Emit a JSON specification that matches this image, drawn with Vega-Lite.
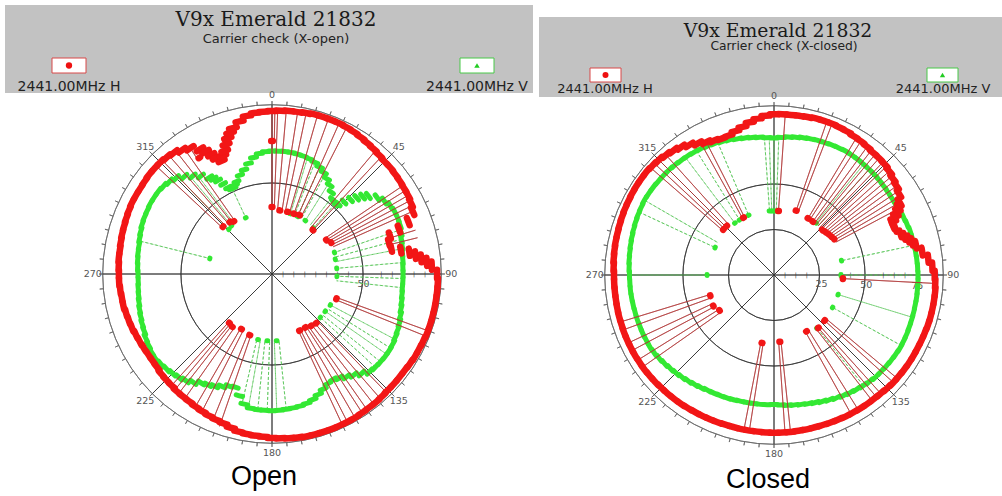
{
"$schema":"https://vega.github.io/schema/vega-lite/v6.json",
"background":"white",
"padding":{"left":5,"top":5,"right":0,"bottom":0},
"config":{"view":{"stroke":null},"text":{"font":"DejaVu Sans"}},
"datasets":{
"axes":[{"a":0},{"a":45},{"a":90},{"a":135},{"a":180},{"a":225},{"a":270},{"a":315}],
"ticks":[{"a":0},{"a":5},{"a":10},{"a":15},{"a":20},{"a":25},{"a":30},{"a":35},{"a":40},{"a":45},{"a":50},{"a":55},{"a":60},{"a":65},{"a":70},{"a":75},{"a":80},{"a":85},{"a":90},{"a":95},{"a":100},{"a":105},{"a":110},{"a":115},{"a":120},{"a":125},{"a":130},{"a":135},{"a":140},{"a":145},{"a":150},{"a":155},{"a":160},{"a":165},{"a":170},{"a":175},{"a":180},{"a":185},{"a":190},{"a":195},{"a":200},{"a":205},{"a":210},{"a":215},{"a":220},{"a":225},{"a":230},{"a":235},{"a":240},{"a":245},{"a":250},{"a":255},{"a":260},{"a":265},{"a":270},{"a":275},{"a":280},{"a":285},{"a":290},{"a":295},{"a":300},{"a":305},{"a":310},{"a":315},{"a":320},{"a":325},{"a":330},{"a":335},{"a":340},{"a":345},{"a":350},{"a":355}],
"hticksL":[{"r":6},{"r":12},{"r":18},{"r":24},{"r":30},{"r":36},{"r":42},{"r":60},{"r":66},{"r":72},{"r":78},{"r":84},{"r":90}],
"hticksR":[{"r":6},{"r":12},{"r":18},{"r":36},{"r":42},{"r":60},{"r":66},{"r":72},{"r":90}],
"dlab":[{"a":0,"t":"0"},{"a":45,"t":"45"},{"a":90,"t":"90"},{"a":135,"t":"135"},{"a":180,"t":"180"},{"a":225,"t":"225"},{"a":270,"t":"270"},{"a":315,"t":"315"}],
"LH":[{"a":0,"r":89.6},{"a":3,"r":89.8},{"a":6,"r":90.1},{"a":9,"r":90.1},{"a":12,"r":90.4},{"a":15,"r":90.7},{"a":18,"r":90.7},{"a":21,"r":90.7},{"a":24,"r":90.7},{"a":27,"r":90.4},{"a":30,"r":90.1},{"a":33,"r":89.6},{"a":36,"r":89.0},{"a":39,"r":88.5},{"a":42,"r":87.9},{"a":45,"r":87.4},{"a":48,"r":87.4},{"a":51,"r":87.1},{"a":54,"r":86.8},{"a":57,"r":86.5},{"a":60,"r":86.3},{"a":63,"r":85.7},{"a":66,"r":84.6},{"a":69,"r":80.2},{"a":70.5,"r":74},{"a":72,"r":68.1},{"a":75,"r":66.5},{"a":78,"r":67.0},{"a":79.5,"r":72},{"a":81,"r":76.4},{"a":82.5,"r":79.5},{"a":84,"r":82.4},{"a":85.5,"r":85.3},{"a":87,"r":87.9},{"a":90,"r":90.7},{"a":93,"r":91.2},{"a":96,"r":91.2},{"a":99,"r":91.2},{"a":102,"r":91.2},{"a":105,"r":91.2},{"a":108,"r":91.2},{"a":111,"r":91.2},{"a":114,"r":90.9},{"a":117,"r":90.7},{"a":120,"r":90.7},{"a":123,"r":90.4},{"a":126,"r":90.1},{"a":129,"r":90.1},{"a":132,"r":90.1},{"a":135,"r":90.1},{"a":138,"r":90.4},{"a":141,"r":90.7},{"a":144,"r":90.7},{"a":147,"r":90.9},{"a":150,"r":91.2},{"a":153,"r":91.2},{"a":156,"r":91.2},{"a":159,"r":91.2},{"a":162,"r":91.2},{"a":165,"r":91.2},{"a":168,"r":91.2},{"a":171,"r":90.9},{"a":174,"r":90.7},{"a":177,"r":90.4},{"a":180,"r":90.1},{"a":183,"r":89.6},{"a":186,"r":89.3},{"a":189,"r":89.0},{"a":192,"r":88.5},{"a":195,"r":87.4},{"a":198,"r":86.3},{"a":201,"r":85.7},{"a":204,"r":85.2},{"a":207,"r":84.6},{"a":210,"r":84.1},{"a":213,"r":83.5},{"a":216,"r":83.2},{"a":219,"r":83.0},{"a":222,"r":82.4},{"a":225,"r":82.2},{"a":228,"r":81.9},{"a":231,"r":81.3},{"a":234,"r":81.1},{"a":237,"r":81.1},{"a":240,"r":81.3},{"a":243,"r":81.6},{"a":246,"r":81.9},{"a":249,"r":82.4},{"a":252,"r":82.7},{"a":255,"r":83.0},{"a":258,"r":83.5},{"a":261,"r":83.5},{"a":264,"r":83.8},{"a":267,"r":84.1},{"a":270,"r":84.1},{"a":273,"r":84.3},{"a":276,"r":84.6},{"a":279,"r":84.6},{"a":282,"r":84.9},{"a":285,"r":85.2},{"a":288,"r":85.4},{"a":291,"r":85.7},{"a":294,"r":86.0},{"a":297,"r":86.3},{"a":300,"r":86.3},{"a":303,"r":86.3},{"a":306,"r":86.5},{"a":309,"r":86.8},{"a":312,"r":86.8},{"a":315,"r":86.8},{"a":318,"r":86.3},{"a":321,"r":85.7},{"a":324,"r":84.1},{"a":327,"r":82.4},{"a":330,"r":79.1},{"a":331.5,"r":76.5},{"a":333,"r":73.6},{"a":334.5,"r":70.8},{"a":336,"r":68.1},{"a":337.5,"r":70.3},{"a":339,"r":72.5},{"a":340.5,"r":75.6},{"a":342,"r":78.6},{"a":343.5,"r":81},{"a":345,"r":83.0},{"a":348,"r":85.7},{"a":351,"r":87.9},{"a":354,"r":89.0},{"a":357,"r":89.3}],
"LHd":[{"a":0,"r":73.1},{"a":0,"r":36.8},{"a":7,"r":35.2},{"a":14,"r":35.2},{"a":20,"r":35.2},{"a":25,"r":35.7},{"a":43,"r":33.0},{"a":58,"r":35.2},{"a":62,"r":36.8},{"a":111,"r":37.9},{"a":138,"r":36.3},{"a":143,"r":35.7},{"a":148,"r":34.6},{"a":154,"r":34.6},{"a":200,"r":35.7},{"a":209,"r":34.6},{"a":217,"r":36.3},{"a":221,"r":35.7},{"a":314,"r":37.4},{"a":321,"r":36.8},{"a":324,"r":35.7},{"a":328,"r":75.3},{"a":333,"r":70.9}],
"LV":[{"a":0,"r":67.6},{"a":3,"r":67.6},{"a":6,"r":67.6},{"a":9,"r":67.6},{"a":12,"r":67.3},{"a":15,"r":67.0},{"a":18,"r":66.5},{"a":21,"r":65.7},{"a":24,"r":64.3},{"a":27,"r":62.6},{"a":30,"r":60.4},{"a":33,"r":58.2},{"a":36,"r":55.5},{"a":39,"r":52.8},{"a":40.5,"r":52.2},{"a":42,"r":51.7},{"a":43.5,"r":53},{"a":45,"r":56.0},{"a":46.5,"r":59.5},{"a":48,"r":62.6},{"a":49.5,"r":65.5},{"a":51,"r":68.1},{"a":54,"r":71.4},{"a":57,"r":73.6},{"a":60,"r":75.0},{"a":63,"r":75.6},{"a":66,"r":75.6},{"a":69,"r":75.3},{"a":72,"r":74.5},{"a":75,"r":73.6},{"a":78,"r":73.1},{"a":81,"r":72.5},{"a":84,"r":72.3},{"a":87,"r":72.0},{"a":90,"r":72.0},{"a":93,"r":72.0},{"a":96,"r":72.0},{"a":99,"r":72.3},{"a":102,"r":72.8},{"a":105,"r":73.4},{"a":108,"r":74.2},{"a":111,"r":75.0},{"a":114,"r":75.6},{"a":117,"r":76.1},{"a":120,"r":76.7},{"a":123,"r":76.9},{"a":126,"r":76.9},{"a":129,"r":76.7},{"a":132,"r":76.4},{"a":135,"r":75.8},{"a":138,"r":73.6},{"a":141,"r":71.4},{"a":144,"r":69.8},{"a":147,"r":68.1},{"a":150,"r":67.0},{"a":153,"r":67.6},{"a":156,"r":69.2},{"a":159,"r":70.9},{"a":162,"r":72.5},{"a":165,"r":73.6},{"a":168,"r":74.2},{"a":171,"r":74.5},{"a":174,"r":74.7},{"a":177,"r":75.0},{"a":180,"r":75.1},{"a":183,"r":75.0},{"a":186,"r":74.9},{"a":189,"r":74.7},{"a":192,"r":73.1},{"a":195,"r":69.2},{"a":198,"r":65.4},{"a":201,"r":65.9},{"a":204,"r":67.6},{"a":207,"r":69.2},{"a":210,"r":70.3},{"a":213,"r":71.4},{"a":216,"r":73.6},{"a":219,"r":75.3},{"a":222,"r":76.4},{"a":225,"r":77.2},{"a":228,"r":78.0},{"a":231,"r":78.6},{"a":234,"r":79.1},{"a":237,"r":78.9},{"a":240,"r":78.3},{"a":243,"r":77.8},{"a":246,"r":76.9},{"a":249,"r":76.4},{"a":252,"r":75.8},{"a":255,"r":75.3},{"a":258,"r":74.7},{"a":261,"r":74.2},{"a":264,"r":73.9},{"a":267,"r":73.6},{"a":270,"r":73.6},{"a":273,"r":73.9},{"a":276,"r":74.2},{"a":279,"r":74.5},{"a":282,"r":74.7},{"a":285,"r":75.3},{"a":288,"r":75.8},{"a":291,"r":76.4},{"a":294,"r":76.7},{"a":297,"r":76.9},{"a":300,"r":77.2},{"a":303,"r":77.2},{"a":306,"r":77.2},{"a":309,"r":76.7},{"a":312,"r":75.8},{"a":315,"r":74.5},{"a":318,"r":72.0},{"a":321,"r":69.2},{"a":324,"r":66.5},{"a":327,"r":63.2},{"a":328.5,"r":61.5},{"a":330,"r":59.3},{"a":331.5,"r":56.3},{"a":333,"r":53.3},{"a":334.5,"r":52},{"a":336,"r":51.7},{"a":337.5,"r":53},{"a":339,"r":54.4},{"a":342,"r":57.1},{"a":345,"r":59.3},{"a":348,"r":62.1},{"a":351,"r":64.8},{"a":354,"r":66.5},{"a":357,"r":67.3}],
"LVd":[{"a":284,"r":35.2},{"a":316,"r":34.1},{"a":320,"r":34.6},{"a":335,"r":34.1},{"a":17,"r":34.6},{"a":24,"r":34.6},{"a":32,"r":34.6},{"a":42,"r":34.1},{"a":71,"r":36.3},{"a":77,"r":35.7},{"a":85,"r":35.7},{"a":92,"r":35.7},{"a":118,"r":36.3},{"a":125,"r":35.7},{"a":132,"r":35.7},{"a":176,"r":36.8},{"a":184,"r":36.8},{"a":192,"r":36.8}],
"LHl":[{"a":0,"r1":36.8,"r2":89.6},{"a":2,"r1":36.8,"r2":89.6},{"a":1,"r1":73.1,"r2":89.6},{"a":5,"r1":35.2,"r2":90.1},{"a":9,"r1":35.2,"r2":90.1},{"a":12,"r1":35.2,"r2":90.4},{"a":16,"r1":35.2,"r2":90.7},{"a":20,"r1":35.2,"r2":90.7},{"a":24,"r1":35.7,"r2":90.7},{"a":27,"r1":35.7,"r2":90.4},{"a":40,"r1":33.0,"r2":87.9},{"a":43,"r1":33.0,"r2":87.4},{"a":56,"r1":35.2,"r2":86.8},{"a":58,"r1":35.2,"r2":86.3},{"a":60,"r1":36.8,"r2":86.3},{"a":62,"r1":36.8,"r2":85.7},{"a":64,"r1":36.8,"r2":85.2},{"a":66,"r1":36.8,"r2":84.6},{"a":73,"r1":67.0,"r2":82.4},{"a":76,"r1":66.5,"r2":82.4},{"a":110,"r1":37.9,"r2":91.2},{"a":112,"r1":37.9,"r2":91.2},{"a":136,"r1":36.3,"r2":90.1},{"a":139,"r1":36.3,"r2":90.1},{"a":142,"r1":35.7,"r2":90.7},{"a":145,"r1":35.7,"r2":90.7},{"a":147,"r1":34.6,"r2":90.7},{"a":150,"r1":34.6,"r2":91.2},{"a":153,"r1":34.6,"r2":91.2},{"a":155,"r1":34.6,"r2":91.2},{"a":199,"r1":35.7,"r2":88.5},{"a":202,"r1":35.7,"r2":86.3},{"a":207,"r1":34.6,"r2":84.6},{"a":210,"r1":34.6,"r2":84.1},{"a":215,"r1":36.3,"r2":83.5},{"a":218,"r1":36.3,"r2":83.0},{"a":220,"r1":35.7,"r2":82.4},{"a":222,"r1":35.7,"r2":82.4},{"a":313,"r1":37.4,"r2":86.8},{"a":316,"r1":37.4,"r2":86.8},{"a":319,"r1":36.8,"r2":86.3},{"a":322,"r1":36.8,"r2":85.2},{"a":325,"r1":35.7,"r2":83.5},{"a":327,"r1":75.3,"r2":82.4},{"a":332,"r1":70.9,"r2":76.9}],
"LVl":[{"a":284,"r1":35.2,"r2":74.2},{"a":316,"r1":34.1,"r2":74.2},{"a":320,"r1":34.6,"r2":70.3},{"a":323,"r1":34.6,"r2":66.5},{"a":335,"r1":34.1,"r2":51.7},{"a":17,"r1":34.6,"r2":66.5},{"a":21,"r1":34.6,"r2":65.4},{"a":24,"r1":34.6,"r2":64.3},{"a":28,"r1":34.6,"r2":61.5},{"a":32,"r1":34.6,"r2":58.2},{"a":38,"r1":34.1,"r2":53.3},{"a":42,"r1":34.1,"r2":51.7},{"a":71,"r1":36.3,"r2":75.3},{"a":75,"r1":35.7,"r2":73.6},{"a":79,"r1":35.7,"r2":73.1},{"a":85,"r1":35.7,"r2":72.0},{"a":92,"r1":35.7,"r2":72.0},{"a":96,"r1":35.7,"r2":72.0},{"a":118,"r1":36.3,"r2":76.4},{"a":122,"r1":36.3,"r2":76.9},{"a":125,"r1":35.7,"r2":76.9},{"a":129,"r1":35.7,"r2":76.4},{"a":132,"r1":35.7,"r2":76.4},{"a":174,"r1":36.8,"r2":74.7},{"a":178,"r1":36.8,"r2":75.3},{"a":182,"r1":36.8,"r2":74.7},{"a":186,"r1":36.8,"r2":74.7},{"a":190,"r1":36.8,"r2":74.2},{"a":193,"r1":36.8,"r2":72.0}],
"RH":[{"a":0,"r":88.3},{"a":3,"r":88.5},{"a":6,"r":88.5},{"a":9,"r":88.5},{"a":12,"r":88.7},{"a":15,"r":89.0},{"a":18,"r":89.0},{"a":21,"r":89.0},{"a":24,"r":88.7},{"a":27,"r":88.5},{"a":30,"r":87.9},{"a":33,"r":87.6},{"a":36,"r":87.1},{"a":39,"r":86.5},{"a":42,"r":86.3},{"a":45,"r":86.0},{"a":48,"r":85.2},{"a":51,"r":84.1},{"a":54,"r":83.2},{"a":57,"r":81.9},{"a":60,"r":79.7},{"a":61.5,"r":78},{"a":63,"r":75.8},{"a":64.5,"r":73.4},{"a":66,"r":70.9},{"a":67.5,"r":70.8},{"a":69,"r":71.4},{"a":72,"r":73.1},{"a":73.5,"r":74.7},{"a":75,"r":76.4},{"a":76.5,"r":78},{"a":78,"r":79.7},{"a":81,"r":82.4},{"a":84,"r":85.2},{"a":87,"r":87.1},{"a":90,"r":88.3},{"a":93,"r":88.7},{"a":96,"r":89.0},{"a":99,"r":89.0},{"a":102,"r":89.0},{"a":105,"r":89.0},{"a":108,"r":88.9},{"a":111,"r":88.7},{"a":114,"r":88.6},{"a":117,"r":88.5},{"a":120,"r":88.5},{"a":123,"r":88.5},{"a":126,"r":88.4},{"a":129,"r":88.3},{"a":132,"r":88.2},{"a":135,"r":87.9},{"a":138,"r":87.6},{"a":141,"r":87.4},{"a":144,"r":87.4},{"a":147,"r":87.3},{"a":150,"r":87.2},{"a":153,"r":87.1},{"a":156,"r":86.9},{"a":159,"r":86.8},{"a":162,"r":86.7},{"a":165,"r":86.6},{"a":168,"r":86.6},{"a":171,"r":86.6},{"a":174,"r":86.7},{"a":177,"r":86.7},{"a":180,"r":86.7},{"a":183,"r":86.6},{"a":186,"r":86.5},{"a":189,"r":86.5},{"a":192,"r":86.5},{"a":195,"r":86.5},{"a":198,"r":86.5},{"a":201,"r":86.6},{"a":204,"r":86.7},{"a":207,"r":86.8},{"a":210,"r":86.9},{"a":213,"r":87.1},{"a":216,"r":87.3},{"a":219,"r":87.4},{"a":222,"r":87.5},{"a":225,"r":87.6},{"a":228,"r":87.8},{"a":231,"r":87.9},{"a":234,"r":88.1},{"a":237,"r":88.1},{"a":240,"r":88.2},{"a":243,"r":88.2},{"a":246,"r":88.2},{"a":249,"r":88.2},{"a":252,"r":88.1},{"a":255,"r":88.1},{"a":258,"r":88.0},{"a":261,"r":87.9},{"a":264,"r":87.9},{"a":267,"r":87.9},{"a":270,"r":87.9},{"a":273,"r":88.2},{"a":276,"r":88.5},{"a":279,"r":88.7},{"a":282,"r":88.9},{"a":285,"r":89.0},{"a":288,"r":89.2},{"a":291,"r":89.4},{"a":294,"r":89.6},{"a":297,"r":89.7},{"a":300,"r":89.9},{"a":303,"r":90.0},{"a":306,"r":90.1},{"a":309,"r":90.1},{"a":312,"r":89.8},{"a":315,"r":89.4},{"a":318,"r":88.7},{"a":321,"r":87.9},{"a":324,"r":86.8},{"a":327,"r":85.2},{"a":330,"r":83.5},{"a":333,"r":81.9},{"a":336,"r":80.8},{"a":339,"r":80.2},{"a":342,"r":80.5},{"a":345,"r":81.8},{"a":348,"r":83.2},{"a":351,"r":84.9},{"a":354,"r":86.3},{"a":357,"r":87.6}],
"RHd":[{"a":4,"r":35.2},{"a":19,"r":37.4},{"a":31,"r":36.3},{"a":36,"r":36.3},{"a":47,"r":36.3},{"a":50,"r":36.8},{"a":53,"r":37.4},{"a":56,"r":37.9},{"a":59,"r":38.5},{"a":93,"r":37.9},{"a":132,"r":37.4},{"a":140,"r":37.9},{"a":150,"r":35.7},{"a":175,"r":36.8},{"a":190,"r":37.9},{"a":237,"r":35.7},{"a":243,"r":37.4},{"a":252,"r":36.8},{"a":312,"r":37.4},{"a":316,"r":37.4},{"a":332,"r":35.7}],
"RV":[{"a":0,"r":75.3},{"a":3,"r":75.7},{"a":6,"r":76.2},{"a":9,"r":76.6},{"a":12,"r":77.1},{"a":15,"r":77.5},{"a":18,"r":77.7},{"a":21,"r":77.9},{"a":24,"r":78.2},{"a":27,"r":78.4},{"a":30,"r":78.6},{"a":33,"r":78.5},{"a":36,"r":78.4},{"a":39,"r":78.2},{"a":42,"r":78.1},{"a":45,"r":78.0},{"a":48,"r":77.8},{"a":51,"r":77.6},{"a":54,"r":77.4},{"a":57,"r":77.3},{"a":60,"r":77.2},{"a":63,"r":77.5},{"a":66,"r":77.9},{"a":69,"r":78.2},{"a":72,"r":78.6},{"a":75,"r":78.6},{"a":78,"r":78.7},{"a":81,"r":78.8},{"a":84,"r":78.9},{"a":87,"r":79.0},{"a":90,"r":79.1},{"a":93,"r":79.2},{"a":96,"r":79.2},{"a":99,"r":79.3},{"a":102,"r":79.3},{"a":105,"r":79.4},{"a":108,"r":79.5},{"a":111,"r":79.6},{"a":114,"r":79.8},{"a":117,"r":79.9},{"a":120,"r":80.0},{"a":123,"r":79.8},{"a":126,"r":79.6},{"a":129,"r":79.4},{"a":132,"r":79.2},{"a":135,"r":79.1},{"a":138,"r":78.6},{"a":141,"r":78.1},{"a":144,"r":77.5},{"a":147,"r":77.0},{"a":150,"r":76.4},{"a":153,"r":75.7},{"a":156,"r":75.0},{"a":159,"r":74.4},{"a":162,"r":73.7},{"a":165,"r":73.1},{"a":168,"r":72.7},{"a":171,"r":72.3},{"a":174,"r":71.9},{"a":177,"r":71.5},{"a":180,"r":71.2},{"a":183,"r":71.3},{"a":186,"r":71.4},{"a":189,"r":71.5},{"a":192,"r":71.6},{"a":195,"r":71.7},{"a":198,"r":72.0},{"a":201,"r":72.3},{"a":204,"r":72.5},{"a":207,"r":72.8},{"a":210,"r":73.1},{"a":213,"r":73.7},{"a":216,"r":74.3},{"a":219,"r":74.9},{"a":222,"r":75.5},{"a":225,"r":76.1},{"a":228,"r":76.7},{"a":231,"r":77.3},{"a":234,"r":77.9},{"a":237,"r":78.5},{"a":240,"r":78.8},{"a":243,"r":78.8},{"a":246,"r":78.9},{"a":249,"r":78.9},{"a":252,"r":79.0},{"a":255,"r":79.0},{"a":258,"r":79.1},{"a":261,"r":79.2},{"a":264,"r":79.3},{"a":267,"r":79.3},{"a":270,"r":79.4},{"a":273,"r":79.7},{"a":276,"r":80.0},{"a":279,"r":80.2},{"a":282,"r":80.5},{"a":285,"r":80.8},{"a":288,"r":81.1},{"a":291,"r":81.4},{"a":294,"r":81.7},{"a":297,"r":81.9},{"a":300,"r":82.2},{"a":303,"r":82.1},{"a":306,"r":82.0},{"a":309,"r":81.8},{"a":312,"r":81.7},{"a":315,"r":81.6},{"a":318,"r":81.3},{"a":321,"r":81.0},{"a":324,"r":80.8},{"a":327,"r":80.5},{"a":330,"r":80.2},{"a":333,"r":79.7},{"a":336,"r":79.2},{"a":339,"r":78.6},{"a":342,"r":78.1},{"a":345,"r":77.5},{"a":348,"r":77.0},{"a":351,"r":76.5},{"a":354,"r":76.0},{"a":357,"r":75.6}],
"RVd":[{"a":356,"r":35.2},{"a":358,"r":35.2},{"a":0,"r":35.2},{"a":2,"r":35.2},{"a":39,"r":36.8},{"a":78,"r":37.9},{"a":90,"r":36.8},{"a":107,"r":36.8},{"a":119,"r":36.8},{"a":141,"r":37.4},{"a":270,"r":36.8},{"a":295,"r":35.7},{"a":323,"r":35.7},{"a":328,"r":35.7},{"a":337,"r":35.7}],
"RHl":[{"a":4,"r1":35.2,"r2":88.5},{"a":19,"r1":37.4,"r2":89.0},{"a":21,"r1":37.4,"r2":89.0},{"a":31,"r1":36.3,"r2":87.9},{"a":33,"r1":36.3,"r2":87.6},{"a":36,"r1":36.3,"r2":87.1},{"a":38,"r1":36.3,"r2":86.8},{"a":40,"r1":36.3,"r2":86.5},{"a":42,"r1":36.3,"r2":86.3},{"a":44,"r1":36.3,"r2":86.0},{"a":46,"r1":36.3,"r2":85.7},{"a":48,"r1":36.3,"r2":85.2},{"a":50,"r1":36.8,"r2":84.6},{"a":52,"r1":36.8,"r2":83.8},{"a":54,"r1":37.4,"r2":83.2},{"a":56,"r1":37.9,"r2":82.2},{"a":58,"r1":38.5,"r2":80.8},{"a":60,"r1":38.5,"r2":79.7},{"a":62,"r1":38.5,"r2":77.0},{"a":93,"r1":37.9,"r2":88.7},{"a":130,"r1":37.4,"r2":88.2},{"a":132,"r1":37.4,"r2":88.2},{"a":138,"r1":37.9,"r2":87.6},{"a":140,"r1":37.9,"r2":87.4},{"a":142,"r1":37.9,"r2":87.4},{"a":148,"r1":35.7,"r2":87.3},{"a":151,"r1":35.7,"r2":87.2},{"a":174,"r1":36.8,"r2":86.7},{"a":176,"r1":36.8,"r2":86.7},{"a":189,"r1":37.9,"r2":86.5},{"a":191,"r1":37.9,"r2":86.5},{"a":235,"r1":35.7,"r2":88.1},{"a":238,"r1":35.7,"r2":88.1},{"a":242,"r1":37.4,"r2":88.2},{"a":245,"r1":37.4,"r2":88.2},{"a":250,"r1":36.8,"r2":88.2},{"a":253,"r1":36.8,"r2":88.1},{"a":311,"r1":37.4,"r2":90.0},{"a":313,"r1":37.4,"r2":89.8},{"a":315,"r1":37.4,"r2":89.4},{"a":318,"r1":37.4,"r2":88.7},{"a":331,"r1":35.7,"r2":83.0},{"a":333,"r1":35.7,"r2":81.9}],
"RVl":[{"a":356,"r1":35.2,"r2":75.6},{"a":358,"r1":35.2,"r2":75.4},{"a":0,"r1":35.2,"r2":75.3},{"a":2,"r1":35.2,"r2":75.5},{"a":39,"r1":36.8,"r2":78.2},{"a":42,"r1":36.8,"r2":78.1},{"a":78,"r1":37.9,"r2":78.7},{"a":90,"r1":36.8,"r2":79.1},{"a":107,"r1":36.8,"r2":79.5},{"a":119,"r1":36.8,"r2":80.0},{"a":141,"r1":37.4,"r2":78.1},{"a":270,"r1":36.8,"r2":79.4},{"a":295,"r1":35.7,"r2":81.7},{"a":300,"r1":35.7,"r2":82.2},{"a":323,"r1":35.7,"r2":80.9},{"a":328,"r1":35.7,"r2":80.4},{"a":337,"r1":35.7,"r2":79.0}]
},
"spacing":0,
"hconcat":[
{"spacing":0,"bounds":"flush","vconcat":[
 {"width":528,"height":88,"view":{"fill":"#c2c2c2","stroke":null},"data":{"values":[{}]},
  "layer":[
   {"mark":{"type":"text","text":"V9x Emerald 21832","font":"DejaVu Serif","fontSize":20,"color":"#1a1a1a","align":"center","baseline":"alphabetic"},
    "encoding":{"x":{"datum":271,"type":"quantitative","scale":{"domain":[0,528],"nice":false,"zero":false},"axis":null},"y":{"datum":21,"type":"quantitative","scale":{"domain":[0,88],"reverse":true,"nice":false,"zero":false},"axis":null}}},
   {"mark":{"type":"text","text":"Carrier check (X-open)","fontSize":13,"color":"#222222","align":"center","baseline":"alphabetic"},
    "encoding":{"x":{"datum":271,"type":"quantitative","scale":{"domain":[0,528],"nice":false,"zero":false},"axis":null},"y":{"datum":37.7,"type":"quantitative","scale":{"domain":[0,88],"reverse":true,"nice":false,"zero":false},"axis":null}}},
   {"mark":{"type":"rect","fill":"white","stroke":"#d84848","strokeWidth":1},
    "encoding":{"x":{"datum":47,"type":"quantitative","scale":{"domain":[0,528],"nice":false,"zero":false},"axis":null},"x2":{"datum":81},"y":{"datum":53,"type":"quantitative","scale":{"domain":[0,88],"reverse":true,"nice":false,"zero":false},"axis":null},"y2":{"datum":68}}},
   {"mark":{"type":"rect","fill":"white","stroke":"#48c848","strokeWidth":1},
    "encoding":{"x":{"datum":455,"type":"quantitative","scale":{"domain":[0,528],"nice":false,"zero":false},"axis":null},"x2":{"datum":489},"y":{"datum":53,"type":"quantitative","scale":{"domain":[0,88],"reverse":true,"nice":false,"zero":false},"axis":null},"y2":{"datum":68}}},
   {"mark":{"type":"point","shape":"circle","filled":true,"size":40,"color":"#ee1111","opacity":1},
    "encoding":{"x":{"datum":64,"type":"quantitative","scale":{"domain":[0,528],"nice":false,"zero":false},"axis":null},"y":{"datum":60.5,"type":"quantitative","scale":{"domain":[0,88],"reverse":true,"nice":false,"zero":false},"axis":null}}},
   {"mark":{"type":"point","shape":"triangle-up","filled":true,"size":30,"color":"#22cc22","opacity":1},
    "encoding":{"x":{"datum":472,"type":"quantitative","scale":{"domain":[0,528],"nice":false,"zero":false},"axis":null},"y":{"datum":60.5,"type":"quantitative","scale":{"domain":[0,88],"reverse":true,"nice":false,"zero":false},"axis":null}}},
   {"mark":{"type":"text","text":"2441.00MHz H","fontSize":14,"color":"#222222","align":"center","baseline":"alphabetic"},
    "encoding":{"x":{"datum":64,"type":"quantitative","scale":{"domain":[0,528],"nice":false,"zero":false},"axis":null},"y":{"datum":86,"type":"quantitative","scale":{"domain":[0,88],"reverse":true,"nice":false,"zero":false},"axis":null}}},
   {"mark":{"type":"text","text":"2441.00MHz V","fontSize":14,"color":"#222222","align":"center","baseline":"alphabetic"},
    "encoding":{"x":{"datum":472,"type":"quantitative","scale":{"domain":[0,528],"nice":false,"zero":false},"axis":null},"y":{"datum":86,"type":"quantitative","scale":{"domain":[0,88],"reverse":true,"nice":false,"zero":false},"axis":null}}}
  ]},
 {"width":534,"height":362,
  "title":{"text":"Open","orient":"bottom","frame":"group","anchor":"middle","dx":-8,"offset":6,"font":"Liberation Sans","fontSize":27,"fontWeight":"normal","color":"black"},
  "layer":[
   {"data":{"values":[{"r":50}]},"mark":{"type":"arc","filled":false,"color":"#333333","strokeWidth":0.8},
    "encoding":{"theta":{"datum":0,"type":"quantitative","scale":{"domain":[0,360],"range":[0,6.283185]}},"theta2":{"datum":360},"radius":{"field":"r","type":"quantitative","scale":{"type":"linear","domain":[0,93],"range":[0,169.3]}},"radius2":{"field":"r"}}},
   {"data":{"values":[{"r":93}]},"mark":{"type":"arc","filled":false,"color":"#666666","strokeWidth":0.8},
    "encoding":{"theta":{"datum":0,"type":"quantitative","scale":{"domain":[0,360],"range":[0,6.283185]}},"theta2":{"datum":360},"radius":{"field":"r","type":"quantitative","scale":{"type":"linear","domain":[0,93],"range":[0,169.3]}},"radius2":{"field":"r"}}},
   {"data":{"name":"axes"},"mark":{"type":"arc","filled":false,"color":"#333333","strokeWidth":0.8},
    "encoding":{"theta":{"field":"a","type":"quantitative","stack":null,"scale":{"domain":[0,360],"range":[0,6.283185]}},"theta2":{"field":"a"},"radius":{"datum":0,"type":"quantitative","scale":{"type":"linear","domain":[0,93],"range":[0,169.3]}},"radius2":{"datum":93}}},
   {"data":{"name":"ticks"},"mark":{"type":"arc","filled":false,"color":"#666666","strokeWidth":0.8},
    "encoding":{"theta":{"field":"a","type":"quantitative","stack":null,"scale":{"domain":[0,360],"range":[0,6.283185]}},"theta2":{"field":"a"},"radius":{"datum":93,"type":"quantitative","scale":{"type":"linear","domain":[0,93],"range":[0,169.3]}},"radius2":{"datum":95}}},
   {"data":{"name":"hticksL"},"mark":{"type":"text","text":"|","fontSize":6,"color":"#333333","align":"center","baseline":"middle"},
    "encoding":{"theta":{"datum":90,"type":"quantitative","scale":{"domain":[0,360],"range":[0,6.283185]}},"radius":{"field":"r","type":"quantitative","scale":{"type":"linear","domain":[0,93],"range":[0,169.3]}}}},
   {"data":{"name":"dlab"},"mark":{"type":"text","fontSize":9.5,"color":"#555555","align":"center","baseline":"middle"},
    "encoding":{"text":{"field":"t"},"theta":{"field":"a","type":"quantitative","stack":null,"scale":{"domain":[0,360],"range":[0,6.283185]}},"radius":{"datum":98.5,"type":"quantitative","scale":{"type":"linear","domain":[0,93],"range":[0,169.3]}}}},
   {"data":{"values":[{"a":96,"r":50.5,"t":"50"}]},"mark":{"type":"text","fontSize":9.5,"color":"#555555","align":"center","baseline":"middle"},
    "encoding":{"text":{"field":"t"},"theta":{"field":"a","type":"quantitative","stack":null,"scale":{"domain":[0,360],"range":[0,6.283185]}},"radius":{"field":"r","type":"quantitative","scale":{"type":"linear","domain":[0,93],"range":[0,169.3]}}}},
   {"data":{"name":"LVl"},"mark":{"type":"arc","filled":false,"color":"#55c455","strokeWidth":0.7,"strokeDash":[3,2]},
    "encoding":{"theta":{"field":"a","type":"quantitative","stack":null,"scale":{"domain":[0,360],"range":[0,6.283185]}},"theta2":{"field":"a"},"radius":{"field":"r1","type":"quantitative","scale":{"type":"linear","domain":[0,93],"range":[0,169.3]}},"radius2":{"field":"r2"}}},
   {"data":{"name":"LV"},"mark":{"type":"arc","filled":false,"color":"#33e833","strokeWidth":5,"strokeJoin":"round","thetaOffset":-0.0262,"theta2Offset":0.0262},
    "encoding":{"theta":{"field":"a","type":"quantitative","stack":null,"scale":{"domain":[0,360],"range":[0,6.283185]}},"theta2":{"field":"a"},"radius":{"field":"r","type":"quantitative","scale":{"type":"linear","domain":[0,93],"range":[0,169.3]}},"radius2":{"field":"r"}}},
   {"data":{"name":"LVd"},"mark":{"type":"arc","filled":false,"color":"#33e833","strokeWidth":5,"strokeJoin":"round","thetaOffset":-0.006,"theta2Offset":0.006},
    "encoding":{"theta":{"field":"a","type":"quantitative","stack":null,"scale":{"domain":[0,360],"range":[0,6.283185]}},"theta2":{"field":"a"},"radius":{"field":"r","type":"quantitative","scale":{"type":"linear","domain":[0,93],"range":[0,169.3]}},"radius2":{"field":"r"}}},
   {"data":{"name":"LHl"},"mark":{"type":"arc","filled":false,"color":"#b03838","strokeWidth":0.7},
    "encoding":{"theta":{"field":"a","type":"quantitative","stack":null,"scale":{"domain":[0,360],"range":[0,6.283185]}},"theta2":{"field":"a"},"radius":{"field":"r1","type":"quantitative","scale":{"type":"linear","domain":[0,93],"range":[0,169.3]}},"radius2":{"field":"r2"}}},
   {"data":{"name":"LH"},"mark":{"type":"arc","filled":false,"color":"#f21616","strokeWidth":6.5,"strokeJoin":"round","thetaOffset":-0.0262,"theta2Offset":0.0262},
    "encoding":{"theta":{"field":"a","type":"quantitative","stack":null,"scale":{"domain":[0,360],"range":[0,6.283185]}},"theta2":{"field":"a"},"radius":{"field":"r","type":"quantitative","scale":{"type":"linear","domain":[0,93],"range":[0,169.3]}},"radius2":{"field":"r"}}},
   {"data":{"name":"LHd"},"mark":{"type":"arc","filled":false,"color":"#f21616","strokeWidth":6.5,"strokeJoin":"round","thetaOffset":-0.006,"theta2Offset":0.006},
    "encoding":{"theta":{"field":"a","type":"quantitative","stack":null,"scale":{"domain":[0,360],"range":[0,6.283185]}},"theta2":{"field":"a"},"radius":{"field":"r","type":"quantitative","scale":{"type":"linear","domain":[0,93],"range":[0,169.3]}},"radius2":{"field":"r"}}}
  ]}
]},
{"spacing":0,"bounds":"flush","vconcat":[
 {"width":463,"height":12,"data":{"values":[]},"mark":"point"},
 {"width":463,"height":80,"view":{"fill":"#c2c2c2","stroke":null},"data":{"values":[{}]},
  "layer":[
   {"mark":{"type":"text","text":"V9x Emerald 21832","font":"DejaVu Serif","fontSize":18.8,"color":"#1a1a1a","align":"center","baseline":"alphabetic"},
    "encoding":{"x":{"datum":239,"type":"quantitative","scale":{"domain":[0,463],"nice":false,"zero":false},"axis":null},"y":{"datum":19.7,"type":"quantitative","scale":{"domain":[0,80],"reverse":true,"nice":false,"zero":false},"axis":null}}},
   {"mark":{"type":"text","text":"Carrier check (X-closed)","fontSize":12.3,"color":"#222222","align":"center","baseline":"alphabetic"},
    "encoding":{"x":{"datum":245,"type":"quantitative","scale":{"domain":[0,463],"nice":false,"zero":false},"axis":null},"y":{"datum":33,"type":"quantitative","scale":{"domain":[0,80],"reverse":true,"nice":false,"zero":false},"axis":null}}},
   {"mark":{"type":"rect","fill":"white","stroke":"#d84848","strokeWidth":1},
    "encoding":{"x":{"datum":51,"type":"quantitative","scale":{"domain":[0,463],"nice":false,"zero":false},"axis":null},"x2":{"datum":82},"y":{"datum":51,"type":"quantitative","scale":{"domain":[0,80],"reverse":true,"nice":false,"zero":false},"axis":null},"y2":{"datum":65}}},
   {"mark":{"type":"rect","fill":"white","stroke":"#48c848","strokeWidth":1},
    "encoding":{"x":{"datum":388,"type":"quantitative","scale":{"domain":[0,463],"nice":false,"zero":false},"axis":null},"x2":{"datum":419},"y":{"datum":51,"type":"quantitative","scale":{"domain":[0,80],"reverse":true,"nice":false,"zero":false},"axis":null},"y2":{"datum":65}}},
   {"mark":{"type":"point","shape":"circle","filled":true,"size":36,"color":"#ee1111","opacity":1},
    "encoding":{"x":{"datum":66.5,"type":"quantitative","scale":{"domain":[0,463],"nice":false,"zero":false},"axis":null},"y":{"datum":58,"type":"quantitative","scale":{"domain":[0,80],"reverse":true,"nice":false,"zero":false},"axis":null}}},
   {"mark":{"type":"point","shape":"triangle-up","filled":true,"size":28,"color":"#22cc22","opacity":1},
    "encoding":{"x":{"datum":403.5,"type":"quantitative","scale":{"domain":[0,463],"nice":false,"zero":false},"axis":null},"y":{"datum":58,"type":"quantitative","scale":{"domain":[0,80],"reverse":true,"nice":false,"zero":false},"axis":null}}},
   {"mark":{"type":"text","text":"2441.00MHz H","fontSize":13,"color":"#222222","align":"center","baseline":"alphabetic"},
    "encoding":{"x":{"datum":66,"type":"quantitative","scale":{"domain":[0,463],"nice":false,"zero":false},"axis":null},"y":{"datum":76,"type":"quantitative","scale":{"domain":[0,80],"reverse":true,"nice":false,"zero":false},"axis":null}}},
   {"mark":{"type":"text","text":"2441.00MHz V","fontSize":13,"color":"#222222","align":"center","baseline":"alphabetic"},
    "encoding":{"x":{"datum":404,"type":"quantitative","scale":{"domain":[0,463],"nice":false,"zero":false},"axis":null},"y":{"datum":76,"type":"quantitative","scale":{"domain":[0,80],"reverse":true,"nice":false,"zero":false},"axis":null}}}
  ]},
 {"width":470,"height":356,
  "title":{"text":"Closed","orient":"bottom","frame":"group","anchor":"middle","dx":-6,"offset":8,"font":"Liberation Sans","fontSize":27,"fontWeight":"normal","color":"black"},
  "layer":[
   {"data":{"values":[{"r":25},{"r":50}]},"mark":{"type":"arc","filled":false,"color":"#333333","strokeWidth":0.8},
    "encoding":{"theta":{"datum":0,"type":"quantitative","scale":{"domain":[0,360],"range":[0,6.283185]}},"theta2":{"datum":360},"radius":{"field":"r","type":"quantitative","scale":{"type":"linear","domain":[0,93],"range":[0,169.3]}},"radius2":{"field":"r"}}},
   {"data":{"values":[{"r":93}]},"mark":{"type":"arc","filled":false,"color":"#666666","strokeWidth":0.8},
    "encoding":{"theta":{"datum":0,"type":"quantitative","scale":{"domain":[0,360],"range":[0,6.283185]}},"theta2":{"datum":360},"radius":{"field":"r","type":"quantitative","scale":{"type":"linear","domain":[0,93],"range":[0,169.3]}},"radius2":{"field":"r"}}},
   {"data":{"name":"axes"},"mark":{"type":"arc","filled":false,"color":"#333333","strokeWidth":0.8},
    "encoding":{"theta":{"field":"a","type":"quantitative","stack":null,"scale":{"domain":[0,360],"range":[0,6.283185]}},"theta2":{"field":"a"},"radius":{"datum":0,"type":"quantitative","scale":{"type":"linear","domain":[0,93],"range":[0,169.3]}},"radius2":{"datum":93}}},
   {"data":{"name":"ticks"},"mark":{"type":"arc","filled":false,"color":"#666666","strokeWidth":0.8},
    "encoding":{"theta":{"field":"a","type":"quantitative","stack":null,"scale":{"domain":[0,360],"range":[0,6.283185]}},"theta2":{"field":"a"},"radius":{"datum":93,"type":"quantitative","scale":{"type":"linear","domain":[0,93],"range":[0,169.3]}},"radius2":{"datum":95}}},
   {"data":{"name":"hticksR"},"mark":{"type":"text","text":"|","fontSize":6,"color":"#333333","align":"center","baseline":"middle"},
    "encoding":{"theta":{"datum":90,"type":"quantitative","scale":{"domain":[0,360],"range":[0,6.283185]}},"radius":{"field":"r","type":"quantitative","scale":{"type":"linear","domain":[0,93],"range":[0,169.3]}}}},
   {"data":{"name":"dlab"},"mark":{"type":"text","fontSize":9.5,"color":"#555555","align":"center","baseline":"middle"},
    "encoding":{"text":{"field":"t"},"theta":{"field":"a","type":"quantitative","stack":null,"scale":{"domain":[0,360],"range":[0,6.283185]}},"radius":{"datum":98.5,"type":"quantitative","scale":{"type":"linear","domain":[0,93],"range":[0,169.3]}}}},
   {"data":{"values":[{"a":101,"r":26.6,"t":"25"},{"a":96,"r":51,"t":"50"},{"a":94.5,"r":79,"t":"75"}]},"mark":{"type":"text","fontSize":9.5,"color":"#555555","align":"center","baseline":"middle"},
    "encoding":{"text":{"field":"t"},"theta":{"field":"a","type":"quantitative","stack":null,"scale":{"domain":[0,360],"range":[0,6.283185]}},"radius":{"field":"r","type":"quantitative","scale":{"type":"linear","domain":[0,93],"range":[0,169.3]}}}},
   {"data":{"name":"RVl"},"mark":{"type":"arc","filled":false,"color":"#55c455","strokeWidth":0.7,"strokeDash":[3,2]},
    "encoding":{"theta":{"field":"a","type":"quantitative","stack":null,"scale":{"domain":[0,360],"range":[0,6.283185]}},"theta2":{"field":"a"},"radius":{"field":"r1","type":"quantitative","scale":{"type":"linear","domain":[0,93],"range":[0,169.3]}},"radius2":{"field":"r2"}}},
   {"data":{"name":"RV"},"mark":{"type":"arc","filled":false,"color":"#33e833","strokeWidth":5,"strokeJoin":"round","thetaOffset":-0.0262,"theta2Offset":0.0262},
    "encoding":{"theta":{"field":"a","type":"quantitative","stack":null,"scale":{"domain":[0,360],"range":[0,6.283185]}},"theta2":{"field":"a"},"radius":{"field":"r","type":"quantitative","scale":{"type":"linear","domain":[0,93],"range":[0,169.3]}},"radius2":{"field":"r"}}},
   {"data":{"name":"RVd"},"mark":{"type":"arc","filled":false,"color":"#33e833","strokeWidth":5,"strokeJoin":"round","thetaOffset":-0.006,"theta2Offset":0.006},
    "encoding":{"theta":{"field":"a","type":"quantitative","stack":null,"scale":{"domain":[0,360],"range":[0,6.283185]}},"theta2":{"field":"a"},"radius":{"field":"r","type":"quantitative","scale":{"type":"linear","domain":[0,93],"range":[0,169.3]}},"radius2":{"field":"r"}}},
   {"data":{"name":"RHl"},"mark":{"type":"arc","filled":false,"color":"#b03838","strokeWidth":0.7},
    "encoding":{"theta":{"field":"a","type":"quantitative","stack":null,"scale":{"domain":[0,360],"range":[0,6.283185]}},"theta2":{"field":"a"},"radius":{"field":"r1","type":"quantitative","scale":{"type":"linear","domain":[0,93],"range":[0,169.3]}},"radius2":{"field":"r2"}}},
   {"data":{"name":"RH"},"mark":{"type":"arc","filled":false,"color":"#f21616","strokeWidth":6.5,"strokeJoin":"round","thetaOffset":-0.0262,"theta2Offset":0.0262},
    "encoding":{"theta":{"field":"a","type":"quantitative","stack":null,"scale":{"domain":[0,360],"range":[0,6.283185]}},"theta2":{"field":"a"},"radius":{"field":"r","type":"quantitative","scale":{"type":"linear","domain":[0,93],"range":[0,169.3]}},"radius2":{"field":"r"}}},
   {"data":{"name":"RHd"},"mark":{"type":"arc","filled":false,"color":"#f21616","strokeWidth":6.5,"strokeJoin":"round","thetaOffset":-0.006,"theta2Offset":0.006},
    "encoding":{"theta":{"field":"a","type":"quantitative","stack":null,"scale":{"domain":[0,360],"range":[0,6.283185]}},"theta2":{"field":"a"},"radius":{"field":"r","type":"quantitative","scale":{"type":"linear","domain":[0,93],"range":[0,169.3]}},"radius2":{"field":"r"}}}
  ]}
]}
]
}
